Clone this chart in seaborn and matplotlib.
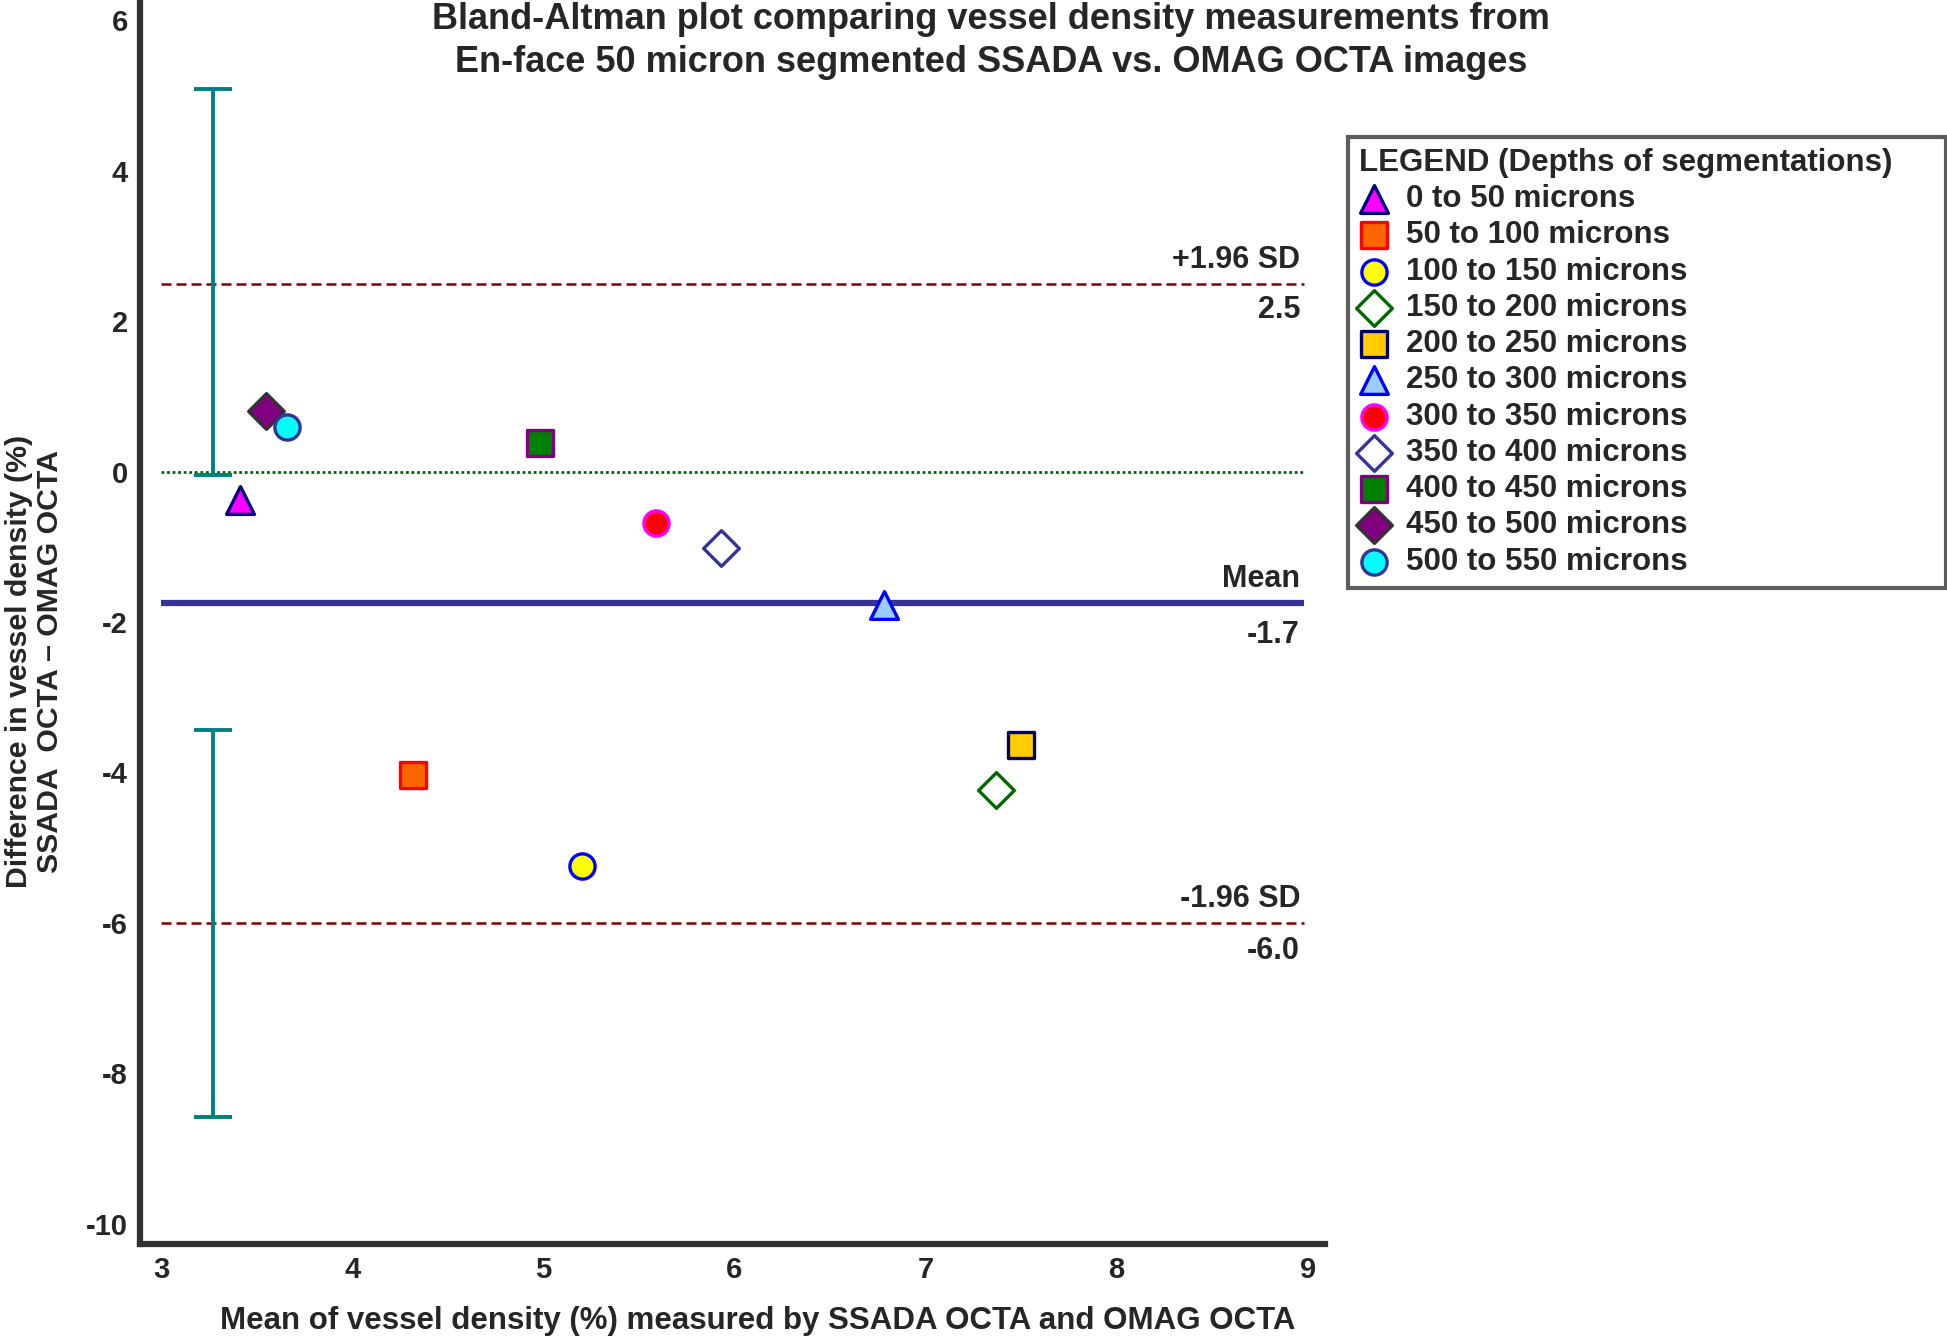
import matplotlib
matplotlib.use("Agg")
import matplotlib.pyplot as plt
import pandas as pd
import seaborn as sns
from matplotlib.ticker import MultipleLocator

# values
depth_labels = [
    "0 to 50 microns", "50 to 100 microns", "100 to 150 microns",
    "150 to 200 microns", "200 to 250 microns", "250 to 300 microns",
    "300 to 350 microns", "350 to 400 microns", "400 to 450 microns",
    "450 to 500 microns", "500 to 550 microns",
]
mean_density = [3.41, 4.32, 5.20, 7.37, 7.50, 6.78, 5.59, 5.93, 4.98, 3.55, 3.66]
diff_density = [-0.38, -4.03, -5.25, -4.24, -3.63, -1.78, -0.68, -1.02, 0.38, 0.81, 0.59]

bias = -1.75
upper_loa = 2.5
lower_loa = -6.0
ref_labels = ["2.5", "-1.7", "-6.0"]

ci_x = 3.27
upper_ci = [-0.05, 5.08]
lower_ci = [-8.58, -3.43]

marker_list = ["^", "s", "o", "D", "s", "^", "o", "D", "s", "D", "o"]
face_list = ["#FF00FF", "#FF6600", "#FFFF00", "#FFFFFF", "#FFCC00", "#99CCFF",
             "#FF0000", "#FFFFFF", "#008000", "#800080", "#00FFFF"]
edge_list = ["#000080", "#FF0000", "#0000FF", "#006600", "#000066", "#0000FF",
             "#FF00FF", "#333399", "#800080", "#333333", "#333399"]

df = pd.DataFrame({"depth": depth_labels, "mean": mean_density, "diff": diff_density})

sns.set_style("white")
plt.rcParams["font.family"] = ["Liberation Sans", "DejaVu Sans"]
plt.rcParams["font.weight"] = "bold"
plt.rcParams["axes.unicode_minus"] = False

fig = plt.figure(figsize=(19.47, 13.37), dpi=100)
ax = fig.add_axes([0.072, 0.0696, 0.6085, 0.9304])

# reference lines
ax.hlines(upper_loa, 3.0, 8.98, color="#800000", linestyle=(0, (4, 2)), linewidth=1.8)
ax.hlines(lower_loa, 3.0, 8.98, color="#800000", linestyle=(0, (4, 2)), linewidth=1.8)
ax.hlines(0, 3.0, 8.98, color="#006600", linestyle=(0, (1, 1)), linewidth=2)
ax.hlines(bias, 3.0, 8.98, color="#333399", linewidth=4.5)

# confidence intervals of the limits
for lo, hi in [upper_ci, lower_ci]:
    mid = (lo + hi) / 2
    ax.errorbar([ci_x], [mid], yerr=[[mid - lo], [hi - mid]], fmt="none",
                ecolor="#008080", elinewidth=2.8, capsize=13.5, capthick=2.8)

# points
for i, row in df.iterrows():
    sns.scatterplot(
        x="mean", y="diff", data=df.iloc[[i]], ax=ax,
        marker=marker_list[i], color=face_list[i], edgecolor=edge_list[i],
        linewidth=2.4, s=400 if marker_list[i] == "^" else 330,
        label=row["depth"], zorder=5,
    )

# labels on reference lines
txt = dict(ha="right", fontsize=22, fontweight="bold")
ax.text(8.96, upper_loa + 0.12, "+1.96 SD", va="bottom", **txt)
ax.text(8.96, upper_loa - 0.15, ref_labels[0], va="top", **txt)
ax.text(8.96, bias + 0.12, "Mean", va="bottom", **txt)
ax.text(8.96, bias - 0.22, ref_labels[1], va="top", **txt)
ax.text(8.96, lower_loa + 0.12, "-1.96 SD", va="bottom", **txt)
ax.text(8.96, lower_loa - 0.17, ref_labels[2], va="top", **txt)

ax.set_xlim(2.89, 9.09)
ax.set_ylim(-10.27, 6.27)
ax.xaxis.set_major_locator(MultipleLocator(1))
ax.xaxis.set_minor_locator(MultipleLocator(0.5))
ax.yaxis.set_major_locator(MultipleLocator(2))
ax.yaxis.set_minor_locator(MultipleLocator(1))
ax.tick_params(which="both", direction="in", color="#333333", labelsize=21, pad=9)
ax.tick_params(which="major", length=14, width=3)
ax.tick_params(which="minor", length=8, width=2)
for lab in ax.get_xticklabels() + ax.get_yticklabels():
    lab.set_fontweight("bold")

for side in ["top", "right"]:
    ax.spines[side].set_visible(False)
for side in ["left", "bottom"]:
    ax.spines[side].set_color("#333333")
    ax.spines[side].set_linewidth(4.5)

ax.set_xlabel("Mean of vessel density (%) measured by SSADA OCTA and OMAG OCTA",
              fontsize=22.5, fontweight="bold")
ax.xaxis.set_label_coords(0.521, -0.050)
ax.set_ylabel("Difference in vessel density (%)\nSSADA  OCTA \u2013 OMAG OCTA",
              fontsize=21.8, fontweight="bold", linespacing=1.15)
ax.yaxis.set_label_coords(-0.064, 0.468)

fig.text(991 / 1947, 1 - 41 / 1337,
         "Bland-Altman plot comparing vessel density measurements from\n"
         "En-face 50 micron segmented SSADA vs. OMAG OCTA images",
         ha="center", va="center", fontsize=26, fontweight="bold", linespacing=1.32)

leg = ax.legend(
    loc="upper left", bbox_to_anchor=(0.6923, 0.8975), bbox_transform=fig.transFigure,
    borderaxespad=0, title="LEGEND (Depths of segmentations)     ", alignment="left",
    fontsize=22.5, title_fontproperties={"size": 22.5, "weight": "bold"},
    frameon=True, fancybox=False, edgecolor="#333333", labelspacing=0.2,
    handletextpad=0.5, handlelength=1.0, borderpad=0.35, markerscale=1.0,
)
leg.get_frame().set_linewidth(3)
for t in leg.get_texts():
    t.set_fontweight("bold")

fig.savefig("out.png", dpi=100)
